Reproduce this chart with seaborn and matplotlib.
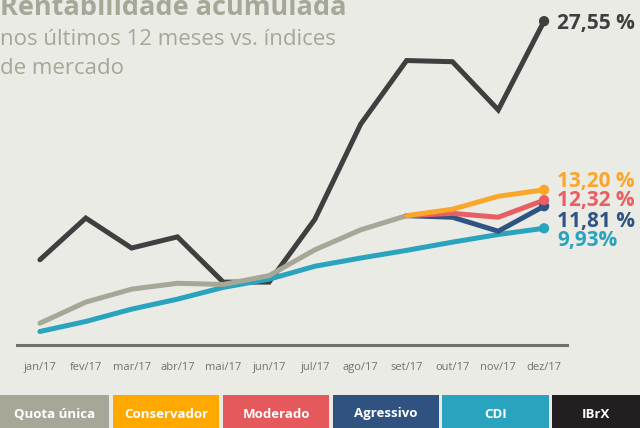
import matplotlib
matplotlib.use("Agg")
import matplotlib.pyplot as plt
from matplotlib.patches import Rectangle
import seaborn as sns
import numpy as np

# data (% accumulated)
months = ["jan/17", "fev/17", "mar/17", "abr/17", "mai/17", "jun/17",
          "jul/17", "ago/17", "set/17", "out/17", "nov/17", "dez/17"]
ibrx = [7.25, 10.8, 8.25, 9.2, 5.35, 5.35, 10.7, 18.8, 24.2, 24.1, 20.0, 27.55]
quota = [1.85, 3.65, 4.75, 5.25, 5.15, 5.9, 8.1, 9.8, 11.0]
cdi = [1.15, 2.0, 3.05, 3.9, 4.9, 5.6, 6.7, 7.4, 8.05, 8.75, 9.4, 9.93]
conservador = [11.0, 11.55, 12.65, 13.20]
moderado = [11.0, 11.2, 10.87, 12.32]
agressivo = [11.0, 10.87, 9.68, 11.81]

legend_names = ["Quota única", "Conservador", "Moderado", "Agressivo", "CDI", "IBrX"]
legend_colors = ["#A6A796", "#FFA800", "#E5585C", "#2F5280", "#2AA3BE", "#231F20"]
end_labels = ["27,55 %", "13,20 %", "12,32 %", "11,81 %", "9,93%"]

bg = "#EBEBE6"
c_quota = "#A6A796"
c_cons = "#F9A62B"
c_mod = "#E85E62"
c_agr = "#2E5483"
c_cdi = "#2AA3BE"
c_ibrx = "#3F3F3F"

sns.set_style("white")
plt.rcParams["font.family"] = ["Open Sans", "DejaVu Sans"]

fig = plt.figure(figsize=(6.4, 4.28), dpi=100, facecolor=bg)
ax = fig.add_axes([17 / 640, 1 - 345 / 428, 550 / 640, 345 / 428])
ax.set_facecolor(bg)

x_all = np.arange(12)
lw = 3.6
series = [
    (x_all, ibrx, c_ibrx),
    (x_all, cdi, c_cdi),
    (x_all[:9], quota, c_quota),
    (x_all[8:], agressivo, c_agr),
    (x_all[8:], moderado, c_mod),
    (x_all[8:], conservador, c_cons),
]
for xs, ys, col in series:
    sns.lineplot(x=xs, y=ys, color=col, linewidth=lw, ax=ax,
                 solid_capstyle="round", solid_joinstyle="miter", clip_on=False)

# end dots
for ys, col in [(ibrx, c_ibrx), (cdi, c_cdi), (agressivo, c_agr),
                (moderado, c_mod), (conservador, c_cons)]:
    ax.scatter([11], [ys[-1]], s=55, color=col, zorder=5, clip_on=False,
               edgecolor="none")

# end labels
label_cols = [c_ibrx, c_cons, c_mod, c_agr, c_cdi]
label_y = [27.35, 13.95, 12.3, 10.5, 8.85]
for txt, yv, col in zip(end_labels, label_y, label_cols):
    ax.text(11.28, yv, txt, color=col, fontsize=15, fontweight="bold",
            va="center", ha="left", clip_on=False)

ax.set_xlim(-0.5, 11.5)
ax.set_ylim(0, 29.35)
sns.despine(ax=ax, left=True)
ax.spines["bottom"].set_color("#707070")
ax.spines["bottom"].set_linewidth(2.2)
ax.set_yticks([])
ax.set_xticks(x_all)
ax.set_xticklabels(months)
ax.set_xticks(np.arange(-0.5, 12, 1), minor=True)
ax.tick_params(axis="x", which="major", length=0, pad=12,
               labelsize=8, labelcolor="#707070")
ax.tick_params(axis="x", which="minor", direction="in", length=7,
               width=1.8, color="#707070")

# title block
fig.text(0.0, 1 - 15 / 428, "Rentabilidade acumulada", fontsize=19.5,
         fontweight="bold", color="#A6A796", ha="left", va="baseline")
fig.text(0.0, 1 - 45 / 428, "nos últimos 12 meses vs. índices", fontsize=16,
         color="#A6A796", ha="left", va="baseline")
fig.text(0.0, 1 - 74 / 428, "de mercado", fontsize=16,
         color="#A6A796", ha="left", va="baseline")

# legend boxes along the bottom
box_left = [0, 113, 223, 333, 442, 552]
box_right = [109, 219, 329, 439, 549, 640]
for name, col, l, r in zip(legend_names, legend_colors, box_left, box_right):
    fig.patches.append(Rectangle((l / 640, 0), (r - l) / 640, 33 / 428,
                                 transform=fig.transFigure, facecolor=col,
                                 edgecolor="none"))
    fig.text((l + r) / 2 / 640, 14 / 428, name, color="white", fontsize=9.5,
             fontweight="bold", ha="center", va="center")

fig.savefig("out.png", dpi=100, facecolor=bg)
